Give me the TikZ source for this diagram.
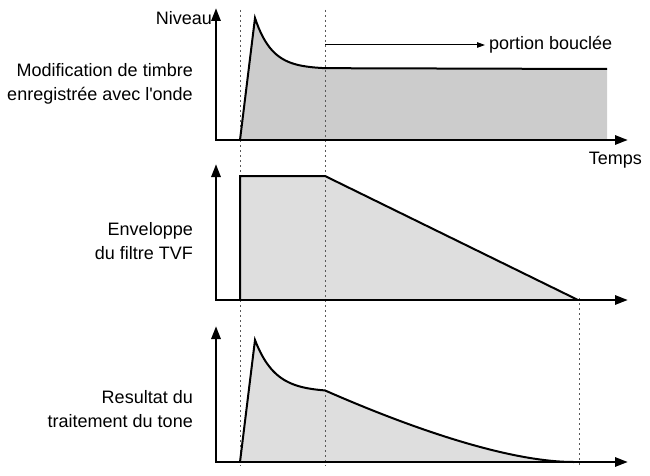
\documentclass[tikz,border=0pt]{standalone}
\usepackage{fontspec}
\setmainfont{Liberation Sans}
\usetikzlibrary{arrows.meta}
\begin{document}
\begin{tikzpicture}[x=1pt,y=-1pt,
  lbl/.style={font=\fontsize{18}{24}\selectfont, inner sep=0pt},
  axis/.style={line width=2.8pt, line join=miter,
    {Triangle[length=13pt,width=9pt]}-{Triangle[length=13pt,width=9pt]}},
  curve/.style={line width=2pt, line join=miter},
  guide/.style={line width=0.9pt, black!65, dash pattern=on 2pt off 3pt},
  fillA/.style={fill=black!20},
  fillB/.style={fill=black!13},
  loop/.style={line width=1pt, -{Triangle[length=8pt,width=5.5pt]}},
]
\useasboundingbox (0,0) rectangle (650,476);

% axis coordinates
\coordinate (o1) at (216,140); \coordinate (y1) at (216,8);   \coordinate (x1) at (628,140);
\coordinate (o2) at (216,300); \coordinate (y2) at (216,164); \coordinate (x2) at (628,300);
\coordinate (o3) at (216,462); \coordinate (y3) at (216,326); \coordinate (x3) at (628,462);

% guide line ends
\coordinate (ga) at (240,10);  \coordinate (gab) at (240,466);
\coordinate (gb) at (325,10);  \coordinate (gbb) at (325,466);
\coordinate (gc) at (579,298); \coordinate (gcb) at (579,466);

% fills
\fill[fillA] (240,140) -- (255,18)
  -- plot[domain=255:325, samples=40] (\x, {69-51*exp(-(\x-255)/17)})
  -- (607,69) -- (607,140) -- cycle;
\fill[fillB] (240,300) -- (240,176) -- (325,176) -- (578,300) -- cycle;
\fill[fillB] (240,462) -- (255,340)
  -- plot[domain=255:325, samples=40] (\x, {392-52*exp(-(\x-255)/20)})
  .. controls (390,419) and (500,462) .. (574,462) -- cycle;

% dashed guides
\draw[guide] (ga) -- (gab);
\draw[guide] (gb) -- (gbb);
\draw[guide] (gc) -- (gcb);

% curves
\draw[curve] (240,140) -- (255,18)
  -- plot[domain=255:325, samples=40] (\x, {69-51*exp(-(\x-255)/17)})
  -- (607,69);
\draw[curve] (240,300) -- (240,176) -- (325,176) -- (578,300);
\draw[curve] (240,462) -- (255,340)
  -- plot[domain=255:325, samples=40] (\x, {392-52*exp(-(\x-255)/20)})
  .. controls (390,419) and (500,462) .. (574,462);

% axes
\draw[axis] (y1) -- (o1) -- (x1);
\draw[axis] (y2) -- (o2) -- (x2);
\draw[axis] (y3) -- (o3) -- (x3);

% texts
\node[lbl, anchor=east] (niveau) at (212,18) {Niveau};
\node[lbl, anchor=east] (temps) at (642,160) {Temps};
\node[lbl, anchor=west, inner xsep=4pt] (pb) at (485,45) {portion bouclée};
\coordinate (pbs) at (325,45);
\draw[loop] (pbs) -- (pb.west);

\node[lbl, anchor=east, align=right] (lab1) at (193,84)
  {Modification de timbre\\enregistrée avec l\textquotesingle onde};
\node[lbl, anchor=east, align=right] (lab2) at (193,241)
  {Enveloppe\\du filtre TVF};
\node[lbl, anchor=east, align=right] (lab3) at (193,409)
  {Resultat du\\traitement du tone};
\end{tikzpicture}
\end{document}
